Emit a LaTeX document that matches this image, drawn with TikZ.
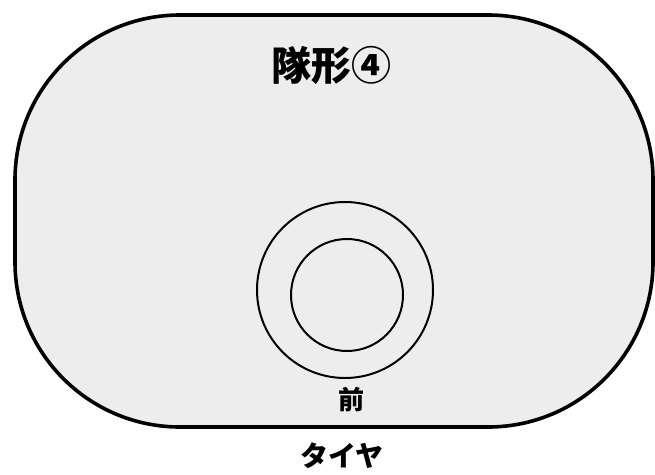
\documentclass[tikz,border=0pt]{standalone}
\usepackage{fontspec}
\newfontfamily\jp{Noto Sans CJK JP}
\definecolor{panel}{HTML}{EDEDED}
\begin{document}
\begin{tikzpicture}[x=1pt,y=-1pt,
  panelbox/.style={draw=black,line width=3.6pt,fill=panel,rounded corners=165pt},
  ring/.style={draw=black,line width=2pt},
  lbl/.style={font=\jp\bfseries,inner sep=0pt}]
\useasboundingbox (0,0) rectangle (655,474);
\draw[panelbox] (15,15) rectangle (653,427);
\node[lbl,font=\jp\bfseries\fontsize{40}{40}\selectfont] (title) at (331,65) {隊形④};
\node[ring,circle,minimum size=176pt,inner sep=0pt] (outer) at (345,290) {};
\node[ring,circle,minimum size=112pt,inner sep=0pt] (inner) at (347,295) {};
\node[lbl,font=\jp\bfseries\fontsize{26}{26}\selectfont] (front) at (351,400) {前};
\node[lbl,font=\jp\bfseries\fontsize{28}{28}\selectfont] (tire) at (342,456) {タイヤ};
\end{tikzpicture}
\end{document}
